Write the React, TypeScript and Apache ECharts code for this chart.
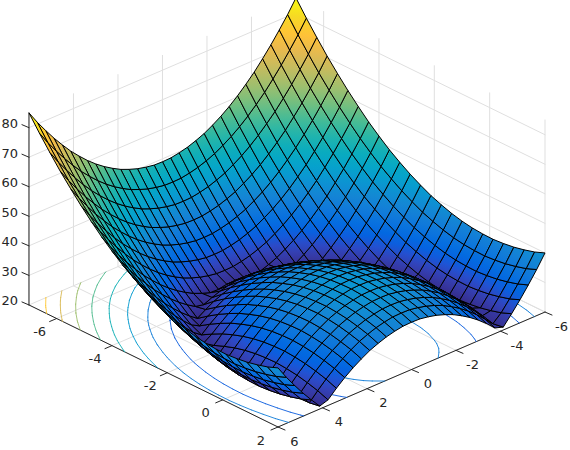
import React, { useEffect, useRef } from "react";
import * as echarts from "echarts";

const xs = [-7, -6.625, -6.25, -5.875, -5.5, -5.125, -4.75, -4.375, -4, -3.625, -3.25, -2.875, -2.5, -2.125, -1.75, -1.375, -1, -0.625, -0.25, 0.125, 0.5, 0.875, 1.25, 1.625, 2];
const ys = [-6, -5.625, -5.25, -4.875, -4.5, -4.125, -3.75, -3.375, -3, -2.625, -2.25, -1.875, -1.5, -1.125, -0.75, -0.375, 0, 0.375, 0.75, 1.125, 1.5, 1.875, 2.25, 2.625, 3, 3.375, 3.75, 4.125, 4.5, 4.875, 5.25, 5.625, 6];
const zHalfRows = [
  [85, 79.9, 75.1, 70.5, 66.3, 62.3, 58.6, 55.1, 52, 49.1, 46.6, 44.3, 42.3, 40.5, 39.1, 37.9, 37, 36.4, 36.1, 36, 36.3, 36.8, 37.6, 38.6, 40],
  [80.6, 75.5, 70.7, 66.1, 61.9, 57.9, 54.2, 50.7, 47.6, 44.7, 42.2, 39.9, 37.9, 36.1, 34.7, 33.5, 32.6, 32, 31.7, 31.6, 31.9, 32.4, 33.2, 34.2, 35.6],
  [76.6, 71.5, 66.7, 62.1, 57.9, 53.9, 50.2, 46.7, 43.6, 40.7, 38.2, 35.9, 33.9, 32.1, 30.7, 29.5, 28.6, 28, 27.7, 27.6, 27.9, 28.4, 29.2, 30.2, 31.6],
  [72.8, 67.7, 62.9, 58.3, 54.1, 50.1, 46.4, 42.9, 39.8, 36.9, 34.4, 32.1, 30.1, 28.3, 26.9, 25.7, 24.8, 24.2, 23.9, 23.8, 24.1, 24.6, 25.4, 26.4, 27.8],
  [69.3, 64.2, 59.4, 54.8, 50.6, 46.6, 42.9, 39.4, 36.3, 33.4, 30.9, 28.6, 26.6, 24.8, 23.4, 22.2, 21.3, 20.7, 20.4, 20.3, 20.6, 21.1, 21.9, 22.9, 24.3],
  [66, 60.9, 56.1, 51.5, 47.3, 43.3, 39.6, 36.1, 33, 30.1, 27.6, 25.3, 23.3, 21.5, 20.1, 21.1, 22, 22.6, 22.9, 23, 22.7, 22.2, 21.4, 20.4, 21],
  [63.1, 58, 53.2, 48.6, 44.4, 40.4, 36.7, 33.2, 30.1, 27.2, 24.7, 22.4, 20.4, 21.4, 22.8, 24, 24.9, 25.5, 25.8, 25.9, 25.6, 25.1, 24.3, 23.3, 21.9],
  [60.4, 55.3, 50.5, 45.9, 41.7, 37.7, 34, 30.5, 27.4, 24.5, 22, 20.3, 22.3, 24.1, 25.5, 26.7, 27.6, 28.2, 28.5, 28.6, 28.3, 27.8, 27, 26, 24.6],
  [58, 52.9, 48.1, 43.5, 39.3, 35.3, 31.6, 28.1, 25, 22.1, 20.4, 22.7, 24.7, 26.5, 27.9, 29.1, 30, 30.6, 30.9, 31, 30.7, 30.2, 29.4, 28.4, 27],
  [55.9, 50.8, 46, 41.4, 37.2, 33.2, 29.5, 26, 22.9, 20, 22.5, 24.8, 26.8, 28.6, 30, 31.2, 32.1, 32.7, 33, 33.1, 32.8, 32.3, 31.5, 30.5, 29.1],
  [54.1, 49, 44.2, 39.6, 35.4, 31.4, 27.7, 24.2, 21.1, 21.8, 24.3, 26.6, 28.6, 30.4, 31.8, 33, 33.9, 34.5, 34.8, 34.9, 34.6, 34.1, 33.3, 32.3, 30.9],
  [52.5, 47.4, 42.6, 38, 33.8, 29.8, 26.1, 22.6, 20.5, 23.4, 25.9, 28.2, 30.2, 32, 33.4, 34.6, 35.5, 36.1, 36.4, 36.5, 36.2, 35.7, 34.9, 33.9, 32.5],
  [51.3, 46.2, 41.4, 36.8, 32.6, 28.6, 24.9, 21.4, 21.7, 24.6, 27.1, 29.4, 31.4, 33.2, 34.6, 35.8, 36.7, 37.3, 37.6, 37.7, 37.4, 36.9, 36.1, 35.1, 33.7],
  [50.3, 45.2, 40.4, 35.8, 31.6, 27.6, 23.9, 20.4, 22.7, 25.6, 28.1, 30.4, 32.4, 34.2, 35.6, 36.8, 37.7, 38.3, 38.6, 38.7, 38.4, 37.9, 37.1, 36.1, 34.7],
  [49.6, 44.5, 39.7, 35.1, 30.9, 26.9, 23.2, 20.3, 23.4, 26.3, 28.8, 31.1, 33.1, 34.9, 36.3, 37.5, 38.4, 39, 39.3, 39.4, 39.1, 38.6, 37.8, 36.8, 35.4],
  [49.1, 44, 39.2, 34.6, 30.4, 26.4, 22.7, 20.8, 23.9, 26.8, 29.3, 31.6, 33.6, 35.4, 36.8, 38, 38.9, 39.5, 39.8, 39.9, 39.6, 39.1, 38.3, 37.3, 35.9],
  [49, 43.9, 39.1, 34.5, 30.3, 26.3, 22.6, 20.9, 24, 26.9, 29.4, 31.7, 33.7, 35.5, 36.9, 38.1, 39, 39.6, 39.9, 40, 39.7, 39.2, 38.4, 37.4, 36],
];
const zMatrix: number[][] = [...zHalfRows, ...zHalfRows.slice(0, -1).reverse()];
const contourLevels = [27.5, 34.5, 41.5, 48.5, 55.5, 62.5, 69.5, 76.5];
const xTicks = [-6, -4, -2, 0, 2];
const yTicks = [-6, -4, -2, 0, 2, 4, 6];
const zTicks = [20, 30, 40, 50, 60, 70, 80];

const X0 = -7, X1 = 2, Y0 = -6, Y1 = 6, Z0 = 20, Z1 = 85;
const parula = [[53,42,135],[54,48,147],[54,55,160],[53,61,173],[50,67,186],[44,74,199],[32,83,212],[15,92,221],[3,99,225],[2,104,225],[4,109,224],[8,113,222],[13,117,220],[16,121,218],[18,125,216],[20,129,214],[20,133,212],[19,137,211],[16,142,210],[12,147,210],[9,152,209],[7,156,207],[6,160,205],[6,164,202],[6,167,198],[7,169,194],[10,172,190],[15,174,185],[21,177,180],[29,179,175],[37,181,169],[46,183,164],[56,185,158],[66,187,152],[77,188,146],[89,189,140],[101,190,134],[113,191,128],[124,191,123],[135,191,119],[146,191,115],[156,191,111],[165,190,107],[174,190,103],[183,189,100],[192,188,96],[200,188,93],[209,187,89],[217,186,86],[225,185,82],[233,185,78],[241,185,74],[248,186,68],[253,190,61],[255,195,55],[254,200,50],[252,206,46],[250,211,42],[247,216,38],[245,222,33],[245,228,29],[245,235,24],[246,243,19],[249,251,14]];

function colorAt(z: number): string {
  const t = Math.max(0, Math.min(1, (z - Z0) / (Z1 - Z0))) * 63;
  const i = Math.min(62, Math.floor(t)), f = t - i;
  const c = parula[i].map((v, k) => Math.round(v + (parula[i + 1][k] - v) * f));
  return `rgb(${c[0]},${c[1]},${c[2]})`;
}
function project(x: number, y: number, z: number): [number, number] {
  return [278 + (x - 2) * 27.67 - (y - 6) * 22.25, 427 + (x - 2) * 13.56 + (y - 6) * 9.58 - (z - 20) * 2.955];
}
const depth = (x: number, y: number, z: number) => 65.86 * x + 81.9 * y + 566.8 * z;

type Quad = { pts: [number, number, number][]; d: number };
const quads: Quad[] = [];
for (let j = 0; j < ys.length - 1; j++) for (let i = 0; i < xs.length - 1; i++) {
  const pts: [number, number, number][] = [[xs[i], ys[j], zMatrix[j][i]], [xs[i + 1], ys[j], zMatrix[j][i + 1]], [xs[i + 1], ys[j + 1], zMatrix[j + 1][i + 1]], [xs[i], ys[j + 1], zMatrix[j + 1][i]]];
  quads.push({ pts, d: pts.reduce((s, p) => s + depth(p[0], p[1], p[2]), 0) / 4 });
}
quads.sort((a, b) => a.d - b.d);

function quadFill(q: Quad, coord: (p: number[]) => number[]) {
  const P = q.pts.map((p) => { const c = coord(project(p[0], p[1], p[2])); return [c[0], c[1], p[2]]; });
  const mx = P.reduce((s, p) => s + p[0], 0) / 4, my = P.reduce((s, p) => s + p[1], 0) / 4, mz = P.reduce((s, p) => s + p[2], 0) / 4;
  let sxx = 0, sxy = 0, syy = 0, sxz = 0, syz = 0;
  P.forEach((p) => { const u = p[0] - mx, v = p[1] - my, w = p[2] - mz; sxx += u * u; sxy += u * v; syy += v * v; sxz += u * w; syz += v * w; });
  const det = sxx * syy - sxy * sxy;
  let a = 0, b = 0;
  if (Math.abs(det) > 1e-6) { a = (sxz * syy - syz * sxy) / det; b = (syz * sxx - sxz * sxy) / det; }
  const g2 = a * a + b * b;
  const zs = P.map((p) => mz + a * (p[0] - mx) + b * (p[1] - my));
  const lo = Math.min(...zs), hi = Math.max(...zs);
  const points = P.map((p) => [p[0], p[1]]);
  if (g2 < 1e-9 || hi - lo < 0.01) return { points, fill: colorAt(mz) as any };
  const x1 = mx + a * (lo - mz) / g2, y1 = my + b * (lo - mz) / g2, x2 = mx + a * (hi - mz) / g2, y2 = my + b * (hi - mz) / g2;
  const grad = new echarts.graphic.LinearGradient(x1, y1, x2, y2, [
    { offset: 0, color: colorAt(lo) }, { offset: 0.5, color: colorAt((lo + hi) / 2) }, { offset: 1, color: colorAt(hi) },
  ], true);
  return { points, fill: grad as any };
}

function contourSegments() {
  const segs: { a: number[]; b: number[]; level: number }[] = [];
  for (const L of contourLevels) for (let j = 0; j < ys.length - 1; j++) for (let i = 0; i < xs.length - 1; i++) {
    const c = [[xs[i], ys[j], zMatrix[j][i]], [xs[i + 1], ys[j], zMatrix[j][i + 1]], [xs[i + 1], ys[j + 1], zMatrix[j + 1][i + 1]], [xs[i], ys[j + 1], zMatrix[j + 1][i]]];
    const cross: number[][] = [];
    for (let k = 0; k < 4; k++) {
      const p = c[k], q = c[(k + 1) % 4];
      if ((p[2] < L) !== (q[2] < L)) { const f = (L - p[2]) / (q[2] - p[2]); cross.push([p[0] + (q[0] - p[0]) * f, p[1] + (q[1] - p[1]) * f]); }
    }
    for (let k = 0; k + 1 < cross.length; k += 2) segs.push({ a: cross[k], b: cross[k + 1], level: L });
  }
  return segs;
}

const GRID = "#dfdfdf", AXIS = "#262626", FONT = '13px "DejaVu Sans"';

export default function App() {
  const ref = useRef<HTMLDivElement>(null);
  useEffect(() => {
    document.body.style.margin = "0";
    const chart = echarts.init(ref.current!, null, { renderer: "svg" });
    const seg = (coord: any, a: number[], b: number[], stroke: string, lineWidth: number, z2 = 0) => {
      const p = coord(a), q = coord(b);
      return { type: "line", z2, shape: { x1: p[0], y1: p[1], x2: q[0], y2: q[1] }, style: { stroke, lineWidth, lineCap: "round" }, silent: true };
    };
    const pj = (x: number, y: number, z: number) => project(x, y, z);
    const base = { type: "custom", coordinateSystem: "cartesian2d", clip: false, silent: true, data: [[100, 100]], encode: { x: 0, y: 1 } };
    chart.setOption({
      animation: false,
      backgroundColor: "#fff",
      grid: { left: 0, top: 0, width: 570, height: 450 },
      xAxis: { type: "value", min: 0, max: 570, show: false },
      yAxis: { type: "value", min: 0, max: 450, inverse: true, show: false },
      series: [
        { ...base, name: "axes", renderItem: (_: any, api: any) => {
          const c = (p: number[]) => api.coord(p);
          const kids: any[] = [];
          for (const x of xTicks) {
            kids.push(seg(c, pj(x, Y0, Z0), pj(x, Y1, Z0), GRID, 1));
            kids.push(seg(c, pj(x, Y0, Z0), pj(x, Y0, Z1), GRID, 1));
          }
          for (const y of yTicks) {
            kids.push(seg(c, pj(X0, y, Z0), pj(X1, y, Z0), GRID, 1));
            kids.push(seg(c, pj(X0, y, Z0), pj(X0, y, Z1), GRID, 1));
          }
          for (const z of zTicks) {
            kids.push(seg(c, pj(X0, Y0, z), pj(X1, Y0, z), GRID, 1));
            kids.push(seg(c, pj(X0, Y0, z), pj(X0, Y1, z), GRID, 1));
          }
          kids.push(seg(c, pj(X0, Y1, Z0), pj(X1, Y1, Z0), AXIS, 1));
          kids.push(seg(c, pj(X1, Y1, Z0), pj(X1, Y0, Z0), AXIS, 1));
          kids.push(seg(c, pj(X0, Y1, Z0), pj(X0, Y1, Z1), AXIS, 1));
          for (const x of xTicks) {
            const p = pj(x, Y1, Z0);
            kids.push(seg(c, p, [p[0] - 7, p[1] + 3], AXIS, 1));
            const t = c([p[0] - 17, p[1] + 13]);
            kids.push({ type: "text", style: { text: String(x), x: t[0], y: t[1], fill: AXIS, font: FONT, align: "center", verticalAlign: "middle" } });
          }
          for (const y of yTicks) {
            const p = pj(X1, y, Z0);
            kids.push(seg(c, p, [p[0] + 7, p[1] + 3], AXIS, 1));
            const t = c([p[0] + 16.5, p[1] + 14]);
            kids.push({ type: "text", style: { text: String(y), x: t[0], y: t[1], fill: AXIS, font: FONT, align: "center", verticalAlign: "middle" } });
          }
          for (const z of zTicks) {
            const p = pj(X0, Y1, z);
            kids.push(seg(c, p, [p[0] - 7, p[1] - 3], AXIS, 1));
            const t = c([p[0] - 11, p[1] - 4]);
            kids.push({ type: "text", style: { text: String(z), x: t[0], y: t[1], fill: AXIS, font: FONT, align: "right", verticalAlign: "middle" } });
          }
          return { type: "group", children: kids };
        } },
        { ...base, name: "contours", renderItem: (_: any, api: any) => {
          const c = (p: number[]) => api.coord(p);
          return { type: "group", children: contourSegments().map((s) => seg(c, pj(s.a[0], s.a[1], Z0), pj(s.b[0], s.b[1], Z0), colorAt(s.level), 0.9)) };
        } },
        { ...base, name: "surface", renderItem: (_: any, api: any) => {
          const c = (p: number[]) => api.coord(p);
          return { type: "group", children: quads.map((q) => {
            const { points, fill } = quadFill(q, c);
            return { type: "polygon", shape: { points }, style: { fill, stroke: "#000", lineWidth: 1, lineJoin: "round" }, silent: true };
          }) };
        } },
      ],
    });
    return () => chart.dispose();
  }, []);
  return <div ref={ref} style={{ width: 570, height: 450 }} />;
}
